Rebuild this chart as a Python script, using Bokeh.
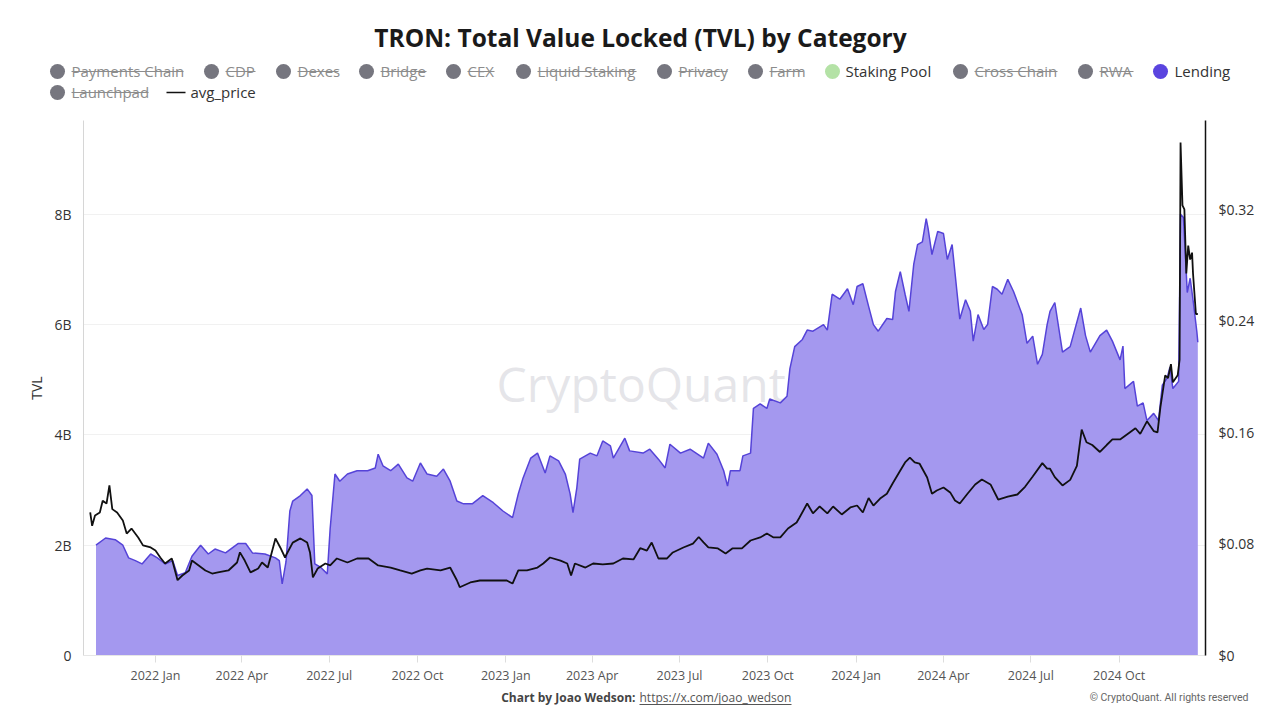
import pandas as pd
from bokeh.plotting import figure
from bokeh.models import (Range1d, LinearAxis, FixedTicker, MonthsTicker, DatetimeTickFormatter,
                          Label, ColumnDataSource, CustomJSTickFormatter)
from bokeh.layouts import column, row
from bokeh.embed import file_html
from bokeh.resources import INLINE
from bokeh.core.properties import value

# ---------------- data ----------------
tvl_dates = [
    "2021-10-31", "2021-11-10", "2021-11-20", "2021-11-28", "2021-12-04", "2021-12-11", "2021-12-18", "2021-12-27",
    "2022-01-03", "2022-01-11", "2022-01-19", "2022-01-24", "2022-02-01", "2022-02-08", "2022-02-17", "2022-02-25",
    "2022-03-04", "2022-03-15", "2022-03-28", "2022-04-05", "2022-04-12", "2022-04-25", "2022-05-06", "2022-05-10",
    "2022-05-13", "2022-05-17", "2022-05-21", "2022-05-24", "2022-06-01", "2022-06-08", "2022-06-13", "2022-06-16",
    "2022-06-22", "2022-06-29", "2022-07-02", "2022-07-07", "2022-07-12", "2022-07-20", "2022-07-30", "2022-08-10",
    "2022-08-18", "2022-08-21", "2022-08-26", "2022-09-03", "2022-09-11", "2022-09-20", "2022-09-26", "2022-10-04",
    "2022-10-11", "2022-10-21", "2022-10-28", "2022-11-04", "2022-11-11", "2022-11-18", "2022-11-27", "2022-12-08",
    "2022-12-19", "2022-12-29", "2023-01-08", "2023-01-14", "2023-01-19", "2023-01-27", "2023-02-03", "2023-02-11",
    "2023-02-16", "2023-02-25", "2023-03-04", "2023-03-09", "2023-03-12", "2023-03-16", "2023-03-19", "2023-03-30",
    "2023-04-06", "2023-04-12", "2023-04-20", "2023-04-23", "2023-05-05", "2023-05-10", "2023-05-24", "2023-05-31",
    "2023-06-09", "2023-06-16", "2023-06-21", "2023-07-02", "2023-07-12", "2023-07-26", "2023-07-31", "2023-08-09",
    "2023-08-16", "2023-08-20", "2023-08-23", "2023-09-02", "2023-09-05", "2023-09-13", "2023-09-16", "2023-09-23",
    "2023-09-30", "2023-10-03", "2023-10-14", "2023-10-21", "2023-10-24", "2023-10-29", "2023-11-06", "2023-11-11",
    "2023-11-17", "2023-11-28", "2023-12-02", "2023-12-07", "2023-12-15", "2023-12-23", "2023-12-29", "2024-01-02",
    "2024-01-08", "2024-01-14", "2024-01-19", "2024-01-24", "2024-02-02", "2024-02-08", "2024-02-11", "2024-02-16",
    "2024-02-21", "2024-02-25", "2024-03-01", "2024-03-05", "2024-03-10", "2024-03-14", "2024-03-16", "2024-03-20",
    "2024-03-26", "2024-04-01", "2024-04-05", "2024-04-10", "2024-04-15", "2024-04-18", "2024-04-24", "2024-04-29",
    "2024-05-02", "2024-05-07", "2024-05-13", "2024-05-17", "2024-05-22", "2024-05-27", "2024-06-01", "2024-06-07",
    "2024-06-13", "2024-06-22", "2024-06-27", "2024-07-03", "2024-07-08", "2024-07-13", "2024-07-18", "2024-07-21",
    "2024-07-26", "2024-08-03", "2024-08-11", "2024-08-22", "2024-08-27", "2024-09-01", "2024-09-11", "2024-09-18",
    "2024-09-24", "2024-10-02", "2024-10-05", "2024-10-07", "2024-10-16", "2024-10-20", "2024-10-26", "2024-10-30",
    "2024-11-06", "2024-11-11", "2024-11-15", "2024-11-20", "2024-11-23", "2024-11-26", "2024-12-02", "2024-12-04",
    "2024-12-07", "2024-12-11", "2024-12-14", "2024-12-17", "2024-12-21", "2024-12-22",
]
tvl_lending_bn = [
    2.00, 2.13, 2.10, 2.00, 1.77, 1.72, 1.66, 1.84,
    1.77, 1.66, 1.72, 1.45, 1.50, 1.80, 2.00, 1.84,
    1.93, 1.86, 2.03, 2.03, 1.86, 1.84, 1.77, 1.72,
    1.30, 1.70, 2.62, 2.80, 2.90, 3.02, 2.90, 1.66,
    1.60, 1.48, 2.30, 3.29, 3.16, 3.29, 3.35, 3.35,
    3.40, 3.65, 3.44, 3.35, 3.47, 3.22, 3.16, 3.49,
    3.29, 3.25, 3.38, 3.16, 2.80, 2.75, 2.75, 2.90,
    2.77, 2.62, 2.50, 2.93, 3.22, 3.58, 3.67, 3.31,
    3.62, 3.53, 3.29, 2.93, 2.59, 3.04, 3.56, 3.67,
    3.62, 3.89, 3.80, 3.58, 3.94, 3.71, 3.67, 3.74,
    3.56, 3.40, 3.83, 3.67, 3.74, 3.58, 3.85, 3.65,
    3.35, 3.07, 3.35, 3.35, 3.62, 3.67, 4.48, 4.56,
    4.48, 4.65, 4.58, 4.70, 5.20, 5.60, 5.73, 5.90,
    5.88, 6.00, 5.90, 6.55, 6.46, 6.65, 6.36, 6.69,
    6.74, 6.33, 6.00, 5.88, 6.11, 6.09, 6.60, 6.96,
    6.55, 6.24, 7.09, 7.45, 7.50, 7.92, 7.74, 7.27,
    7.69, 7.65, 7.18, 7.45, 6.60, 6.10, 6.45, 6.24,
    5.70, 6.18, 5.91, 6.00, 6.69, 6.64, 6.55, 6.82,
    6.60, 6.18, 5.66, 5.79, 5.28, 5.46, 6.00, 6.24,
    6.40, 5.50, 5.60, 6.30, 5.80, 5.50, 5.80, 5.90,
    5.70, 5.36, 5.61, 4.84, 4.97, 4.52, 4.58, 4.26,
    4.39, 4.26, 4.90, 5.03, 5.23, 4.84, 4.97, 8.00,
    7.94, 6.58, 6.84, 6.45, 5.87, 5.68,
]

price_dates = [
    "2021-10-25", "2021-10-27", "2021-10-30", "2021-11-04", "2021-11-07", "2021-11-11", "2021-11-14", "2021-11-17",
    "2021-11-22", "2021-11-28", "2021-12-02", "2021-12-07", "2021-12-14", "2021-12-19", "2021-12-27", "2022-01-01",
    "2022-01-06", "2022-01-11", "2022-01-18", "2022-01-24", "2022-01-29", "2022-02-05", "2022-02-08", "2022-02-15",
    "2022-02-22", "2022-03-01", "2022-03-07", "2022-03-18", "2022-03-27", "2022-03-30", "2022-04-04", "2022-04-10",
    "2022-04-18", "2022-04-22", "2022-04-28", "2022-05-06", "2022-05-11", "2022-05-16", "2022-05-18", "2022-05-24",
    "2022-06-01", "2022-06-08", "2022-06-11", "2022-06-14", "2022-06-19", "2022-06-27", "2022-07-02", "2022-07-09",
    "2022-07-20", "2022-07-30", "2022-08-11", "2022-08-21", "2022-09-03", "2022-09-13", "2022-09-25", "2022-10-04",
    "2022-10-11", "2022-10-25", "2022-11-04", "2022-11-11", "2022-11-14", "2022-11-25", "2022-12-05", "2022-12-23",
    "2023-01-02", "2023-01-08", "2023-01-14", "2023-01-23", "2023-02-03", "2023-02-09", "2023-02-16", "2023-02-27",
    "2023-03-06", "2023-03-10", "2023-03-14", "2023-03-25", "2023-04-02", "2023-04-12", "2023-04-23", "2023-05-03",
    "2023-05-14", "2023-05-21", "2023-05-28", "2023-06-02", "2023-06-09", "2023-06-18", "2023-06-24", "2023-07-05",
    "2023-07-15", "2023-07-21", "2023-07-26", "2023-07-31", "2023-08-10", "2023-08-18", "2023-08-25", "2023-09-04",
    "2023-09-13", "2023-09-23", "2023-09-30", "2023-10-07", "2023-10-14", "2023-10-22", "2023-10-31", "2023-11-03",
    "2023-11-11", "2023-11-17", "2023-11-24", "2023-12-02", "2023-12-08", "2023-12-17", "2023-12-26", "2024-01-02",
    "2024-01-08", "2024-01-14", "2024-01-19", "2024-01-26", "2024-02-02", "2024-02-08", "2024-02-16", "2024-02-21",
    "2024-02-26", "2024-03-02", "2024-03-07", "2024-03-15", "2024-03-20", "2024-03-25", "2024-04-01", "2024-04-08",
    "2024-04-13", "2024-04-18", "2024-04-26", "2024-05-04", "2024-05-11", "2024-05-20", "2024-05-28", "2024-06-07",
    "2024-06-17", "2024-06-25", "2024-07-03", "2024-07-13", "2024-07-18", "2024-07-21", "2024-07-26", "2024-08-03",
    "2024-08-11", "2024-08-18", "2024-08-23", "2024-08-28", "2024-09-03", "2024-09-11", "2024-09-18", "2024-09-24",
    "2024-10-02", "2024-10-12", "2024-10-18", "2024-10-23", "2024-10-30", "2024-11-06", "2024-11-10", "2024-11-13",
    "2024-11-18", "2024-11-21", "2024-11-24", "2024-11-26", "2024-12-01", "2024-12-03", "2024-12-04", "2024-12-06",
    "2024-12-08", "2024-12-10", "2024-12-12", "2024-12-14", "2024-12-16", "2024-12-17", "2024-12-20", "2024-12-22",
]
avg_price_usd = [
    0.1026, 0.0930, 0.1004, 0.1026, 0.1110, 0.1090, 0.1220, 0.1050,
    0.1026, 0.0968, 0.0875, 0.0911, 0.0847, 0.0790, 0.0775, 0.0753,
    0.0703, 0.0660, 0.0696, 0.0540, 0.0574, 0.0610, 0.0681, 0.0646,
    0.0610, 0.0588, 0.0596, 0.0610, 0.0667, 0.0740, 0.0681, 0.0596,
    0.0624, 0.0667, 0.0631, 0.0840, 0.0775, 0.0703, 0.0732, 0.0810,
    0.0840, 0.0810, 0.0739, 0.0560, 0.0624, 0.0660, 0.0646, 0.0696,
    0.0667, 0.0696, 0.0696, 0.0646, 0.0631, 0.0610, 0.0588, 0.0610,
    0.0624, 0.0610, 0.0631, 0.0540, 0.0490, 0.0524, 0.0538, 0.0538,
    0.0538, 0.0516, 0.0610, 0.0610, 0.0631, 0.0660, 0.0703, 0.0681,
    0.0660, 0.0574, 0.0660, 0.0631, 0.0660, 0.0653, 0.0660, 0.0696,
    0.0689, 0.0770, 0.0753, 0.0810, 0.0696, 0.0696, 0.0739, 0.0775,
    0.0803, 0.0850, 0.0811, 0.0775, 0.0768, 0.0732, 0.0768, 0.0768,
    0.0825, 0.0847, 0.0875, 0.0847, 0.0847, 0.0911, 0.0954, 0.0990,
    0.1090, 0.1020, 0.1069, 0.1020, 0.1069, 0.1012, 0.1062, 0.1076,
    0.1026, 0.1130, 0.1076, 0.1126, 0.1160, 0.1234, 0.1327, 0.1385,
    0.1420, 0.1385, 0.1377, 0.1277, 0.1160, 0.1184, 0.1205, 0.1170,
    0.1112, 0.1090, 0.1160, 0.1227, 0.1262, 0.1227, 0.1119, 0.1140,
    0.1155, 0.1210, 0.1284, 0.1380, 0.1340, 0.1340, 0.1280, 0.1220,
    0.1260, 0.1360, 0.1620, 0.1530, 0.1510, 0.1460, 0.1510, 0.1550,
    0.1550, 0.1600, 0.1630, 0.1590, 0.1680, 0.1610, 0.1600, 0.1780,
    0.2010, 0.1990, 0.2090, 0.1960, 0.2010, 0.2120, 0.3680, 0.3230,
    0.3200, 0.2740, 0.2940, 0.2840, 0.2890, 0.2740, 0.2450, 0.2450,
]

legend_names = ["Payments Chain", "CDP", "Dexes", "Bridge", "CEX", "Liquid Staking", "Privacy", "Farm",
                "Staking Pool", "Cross Chain", "RWA", "Lending", "Launchpad"]
legend_visible = [False, False, False, False, False, False, False, False, True, False, False, True, False]

# ---------------- styling ----------------
FONT = "Open Sans"
W = 1280
AREA_FILL = "#a498ef"
AREA_LINE = "#5543d8"
HIDDEN = "#76767f"
HIDDEN_TXT = "#8c8c8c"
TXT = "#333333"

# ---------------- header ----------------
HH = 108
hdr = figure(width=W, height=HH, x_range=Range1d(0, W), y_range=Range1d(HH, 0),
             toolbar_location=None, output_backend="svg", min_border=0,
             x_axis_type=None, y_axis_type=None)
hdr.grid.visible = False
hdr.outline_line_color = None
hdr.add_layout(Label(x=640, y=37, text="TRON: Total Value Locked (TVL) by Category",
                     text_font=FONT, text_font_size="24.5px", text_font_style="bold",
                     text_color="#1a1a1a", text_align="center", text_baseline="middle"))

# layout positions of the legend entries (circle x, text x, row y, strike width)
leg_cx = [57, 211, 283, 366, 453, 523, 664, 755, 832, 960, 1085, 1160, 57]
leg_tx = [71, 225, 297, 380, 467, 537, 678, 769, 845, 974, 1099, 1174, 71]
leg_y = [70.5] * 12 + [91.5]
leg_w = [112, 30, 41, 46, 27, 99, 49, 34, 0, 83, 34, 0, 77]
circle_colors = []
text_colors = []
for n, vis in zip(legend_names, legend_visible):
    if n == "Staking Pool":
        circle_colors.append("#b4e2a6")
    elif n == "Lending":
        circle_colors.append("#5a44df")
    else:
        circle_colors.append(HIDDEN)
    text_colors.append(TXT if vis else HIDDEN_TXT)

hdr.scatter(x=leg_cx, y=[y + 0.5 for y in leg_y], size=15, fill_color=circle_colors, line_color=None)
hdr.text(x=leg_tx, y=leg_y, text=legend_names, text_font=value(FONT), text_font_size="15px",
         text_baseline="middle", text_align="left", text_color=text_colors)
sx0, sx1, sy = [], [], []
for tx, y, w, vis in zip(leg_tx, leg_y, leg_w, legend_visible):
    if not vis:
        sx0.append(tx)
        sx1.append(tx + w)
        sy.append(y + 0.5)
hdr.segment(x0=sx0, y0=sy, x1=sx1, y1=sy, line_color=HIDDEN_TXT, line_width=1.2)
hdr.segment(x0=[166], y0=[92], x1=[185], y1=[92], line_color="#111111", line_width=1.6)
hdr.text(x=[190], y=[91.5], text=["avg_price"], text_font=value(FONT), text_font_size="15px",
         text_baseline="middle", text_color=TXT)

# ---------------- main chart ----------------
tvl_src = ColumnDataSource(dict(date=pd.to_datetime(tvl_dates), tvl=tvl_lending_bn))
price_src = ColumnDataSource(dict(date=pd.to_datetime(price_dates), price=avg_price_usd))

p = figure(width=W, height=580, x_axis_type="datetime",
           x_range=Range1d(pd.Timestamp("2021-10-18"), pd.Timestamp("2024-12-30")),
           y_range=Range1d(0, 9.70), toolbar_location=None, output_backend="svg",
           min_border_left=83, min_border_right=75, min_border_top=12, min_border_bottom=33)
p.outline_line_color = None
p.background_fill_color = "white"
p.border_fill_color = "white"
p.xgrid.grid_line_color = None
p.ygrid.grid_line_color = "#f1f1f1"
p.ygrid.ticker = FixedTicker(ticks=[2, 4, 6, 8])

p.extra_y_ranges = {"price": Range1d(0, 0.3838)}

# left axis
ya = p.yaxis[0]
ya.ticker = FixedTicker(ticks=[0, 2, 4, 6, 8])
ya.formatter = CustomJSTickFormatter(code="return tick == 0 ? '0' : tick.toFixed(0) + 'B';")
ya.axis_label = "TVL"
ya.axis_label_text_font = FONT
ya.axis_label_text_font_size = "14px"
ya.axis_label_text_font_style = "normal"
ya.axis_label_text_color = TXT
ya.axis_label_standoff = 5
ya.major_label_text_font = FONT
ya.major_label_text_font_size = "14px"
ya.major_label_text_color = TXT
ya.major_label_standoff = 12
ya.major_tick_in = 0
ya.major_tick_out = 0
ya.minor_tick_in = 0
ya.minor_tick_out = 0
ya.axis_line_color = "#d6d6d6"

# right axis
ra = LinearAxis(y_range_name="price", ticker=FixedTicker(ticks=[0, 0.08, 0.16, 0.24, 0.32]),
                formatter=CustomJSTickFormatter(code="return tick == 0 ? '$0' : '$' + tick.toFixed(2);"))
ra.major_label_text_font = FONT
ra.major_label_text_font_size = "14px"
ra.major_label_text_color = TXT
ra.major_label_standoff = 13
ra.major_tick_in = 0
ra.major_tick_out = 0
ra.minor_tick_in = 0
ra.minor_tick_out = 0
ra.axis_line_color = "#111111"
ra.axis_line_width = 1.5
p.add_layout(ra, "right")

# bottom axis
xa = p.xaxis[0]
xa.ticker = MonthsTicker(months=[0, 3, 6, 9])
xa.formatter = DatetimeTickFormatter(months="%Y %b", days="%Y %b", years="%Y %b")
xa.major_label_text_font = FONT
xa.major_label_text_font_size = "12.5px"
xa.major_label_text_color = "#555555"
xa.major_label_standoff = 4
xa.major_tick_in = 0
xa.major_tick_out = 7
xa.major_tick_line_color = "#dddddd"
xa.minor_tick_in = 0
xa.minor_tick_out = 0
xa.axis_line_color = "#e6e6e6"

# watermark
p.add_layout(Label(x=pd.Timestamp("2023-05-22").timestamp() * 1000, y=4.93, text="CryptoQuant",
                   text_font=FONT, text_font_size="48px", text_color="#cfcfd6", text_alpha=0.55,
                   text_align="center", text_baseline="middle", level="underlay"))

p.varea(x="date", y1=0, y2="tvl", source=tvl_src, fill_color=AREA_FILL, fill_alpha=1.0)
p.line(x="date", y="tvl", source=tvl_src, line_color=AREA_LINE, line_width=1.5)
p.line(x="date", y="price", source=price_src, y_range_name="price", line_color="#111111", line_width=1.8)

# ---------------- footer ----------------
FH = 32
ftr = figure(width=W, height=FH, x_range=Range1d(0, W), y_range=Range1d(FH, 0),
             toolbar_location=None, output_backend="svg", min_border=0,
             x_axis_type=None, y_axis_type=None)
ftr.grid.visible = False
ftr.outline_line_color = None
ftr.text(x=[635], y=[9], text=["Chart by Joao Wedson:"], text_font=value(FONT), text_font_size="12px",
         text_font_style="bold", text_align="right", text_baseline="middle", text_color="#444444")
ftr.text(x=[639], y=[9], text=["https://x.com/joao_wedson"], text_font=value(FONT), text_font_size="12px",
         text_align="left", text_baseline="middle", text_color="#555555")
ftr.segment(x0=[639], y0=[16], x1=[791], y1=[16], line_color="#555555", line_width=1)
ftr.text(x=[1248], y=[9], text=["© CryptoQuant. All rights reserved"], text_font=value("Roboto"),
         text_font_size="10.5px", text_align="right", text_baseline="middle", text_color="#666666")

layout = column(row(hdr), p, row(ftr), spacing=0)
open("out.html", "w").write(file_html(layout, INLINE))
